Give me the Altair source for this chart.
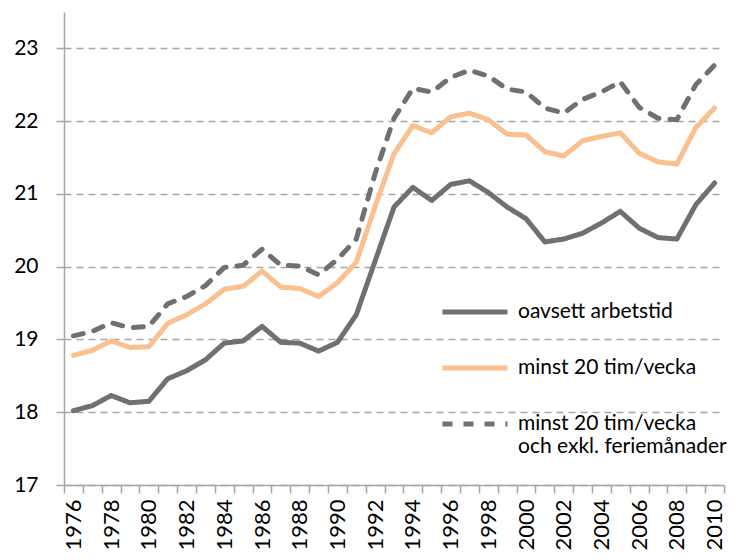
import altair as alt
import pandas as pd

years = list(range(1976, 2011))

series_names = [
    "oavsett arbetstid",
    "minst 20 tim/vecka",
    "minst 20 tim/vecka|och exkl. feriemånader",
]

oavsett = [18.02, 18.09, 18.23, 18.13, 18.15, 18.46, 18.57, 18.72, 18.95, 18.98,
           19.18, 18.96, 18.95, 18.84, 18.96, 19.34, 20.08, 20.82, 21.09, 20.91,
           21.13, 21.18, 21.02, 20.82, 20.66, 20.34, 20.38, 20.46, 20.60, 20.76,
           20.53, 20.40, 20.38, 20.85, 21.15]

minst20 = [18.78, 18.85, 18.98, 18.89, 18.90, 19.22, 19.34, 19.49, 19.69, 19.73,
           19.94, 19.72, 19.70, 19.59, 19.78, 20.06, 20.83, 21.55, 21.94, 21.84,
           22.06, 22.11, 22.02, 21.82, 21.81, 21.58, 21.52, 21.73, 21.79, 21.84,
           21.56, 21.44, 21.41, 21.91, 22.18]

exkl = [19.05, 19.11, 19.23, 19.16, 19.18, 19.49, 19.59, 19.74, 19.99, 20.02,
        20.24, 20.02, 20.01, 19.89, 20.10, 20.38, 21.28, 22.04, 22.45, 22.40,
        22.60, 22.70, 22.62, 22.44, 22.40, 22.18, 22.11, 22.30, 22.40, 22.54,
        22.19, 22.04, 22.02, 22.50, 22.77]

y_ticks = [17, 18, 19, 20, 21, 22, 23]

colors = ["#707070", "#FAC08F", "#707070"]
dashes = [[1, 0], [1, 0], [10, 11]]

rows = []
for name, vals in zip(series_names, [oavsett, minst20, exkl]):
    for yr, v in zip(years, vals):
        rows.append({"year": yr, "value": v, "series": name})
df = pd.DataFrame(rows)

GRID = "#A6A6A6"

chart = (
    alt.Chart(df)
    .mark_line(strokeWidth=5, strokeCap="round", strokeJoin="round")
    .encode(
        x=alt.X(
            "year:O",
            bandPosition=0.5,
            scale=alt.Scale(type="band", paddingInner=0, paddingOuter=0),
            axis=alt.Axis(
                title=None,
                tickBand="extent",
                labelAngle=-90,
                labelExpr="datum.value % 2 == 0 ? datum.label : ''",
                labelFont="Lato",
                labelFontSize=22,
                labelColor="#000000",
                labelPadding=6,
                tickSize=8,
                tickColor=GRID,
                tickWidth=1.5,
                domainColor=GRID,
                domainWidth=1.5,
                grid=False,
            ),
        ),
        y=alt.Y(
            "value:Q",
            scale=alt.Scale(domain=[17, 23.5], nice=False, zero=False),
            axis=alt.Axis(
                title=None,
                values=y_ticks,
                labelFont="Lato",
                labelFontSize=21,
                labelColor="#000000",
                labelPadding=18,
                tickSize=8,
                tickColor=GRID,
                tickWidth=1.5,
                domainColor=GRID,
                domainWidth=1.5,
                grid=True,
                gridColor=GRID,
                gridWidth=1.5,
                gridDash=[7, 5],
            ),
        ),
        color=alt.Color(
            "series:N",
            scale=alt.Scale(domain=series_names, range=colors),
            legend=alt.Legend(
                title=None,
                orient="none",
                legendX=376,
                legendY=265,
                symbolType="stroke",
                symbolSize=4225,
                symbolStrokeWidth=5,
                labelFont="Lato",
                labelFontSize=21,
                labelColor="#000000",
                labelLimit=400,
                labelOffset=8,
                rowPadding=11,
                labelExpr="split(datum.label, '|')",
            ),
        ),
        strokeDash=alt.StrokeDash(
            "series:N",
            scale=alt.Scale(domain=series_names, range=dashes),
            legend=None,
        ),
        order=alt.Order("year:O"),
    )
    .properties(
        width=660,
        height=473,
        autosize=alt.AutoSizeParams(type="none"),
        padding={"left": 56, "top": 4, "right": 10, "bottom": 66},
    )
    .configure_view(stroke=None)
)

chart.save("out.html", embed_options={"renderer": "svg", "actions": False})
